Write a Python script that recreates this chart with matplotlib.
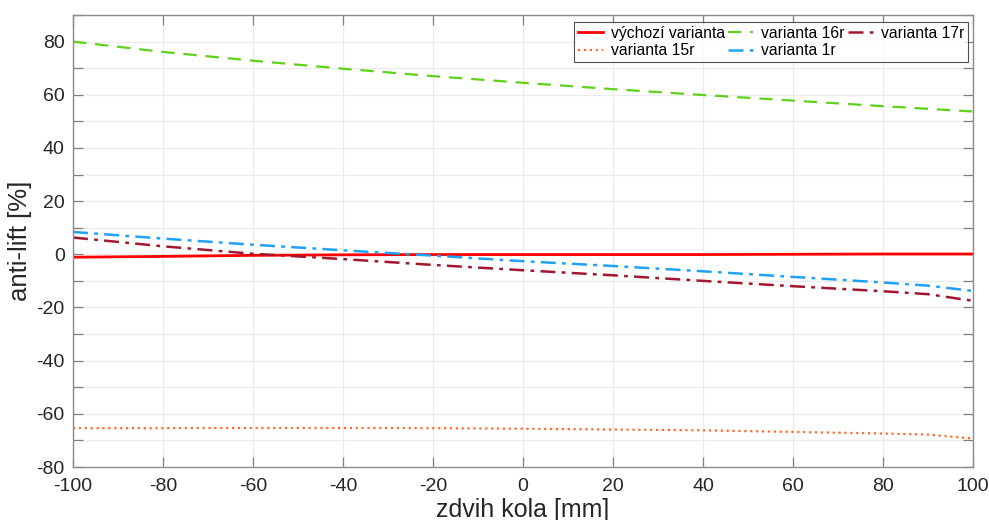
import numpy as np
import matplotlib.pyplot as plt
from matplotlib.ticker import FuncFormatter

plt.rcParams['font.family'] = ['Liberation Sans', 'DejaVu Sans']
plt.rcParams['axes.unicode_minus'] = False

# wheel travel [mm]
zdvih = [-100, -80, -60, -40, -20, 0, 20, 40, 60, 80, 90, 100]

# anti-lift [%] for each variant
vychozi = [-1.1, -0.8, -0.4, -0.2, -0.1, -0.1, -0.1, -0.1, 0.0, 0.1, 0.1, 0.1]
var_15r = [-65.4, -65.4, -65.3, -65.3, -65.4, -65.6, -65.9, -66.2, -66.8, -67.4, -67.8, -69.3]
var_16r = [80.0, 76.1, 72.8, 69.8, 67.0, 64.5, 62.1, 59.9, 57.8, 55.7, 54.7, 53.7]
var_1r = [8.4, 5.9, 3.6, 1.5, -0.5, -2.6, -4.4, -6.4, -8.5, -10.6, -11.8, -13.8]
var_17r = [6.3, 3.0, 0.2, -1.8, -4.0, -6.0, -7.9, -10.0, -12.0, -13.9, -15.0, -17.5]

fig = plt.figure(figsize=(9.89, 5.2), dpi=100)
ax = fig.add_axes([0.0738, 0.1019, 0.91, 0.8693])

ax.plot(zdvih, vychozi, color='#ff0000', lw=2.0, ls='-', label='výchozí varianta')
ax.plot(zdvih, var_15r, color='#ff6a2a', lw=1.6, ls=':', label='varianta 15r')
ax.plot(zdvih, var_16r, color='#5fd11a', lw=1.6, ls=(0, (6, 4)), label='varianta 16r')
ax.plot(zdvih, var_1r, color='#1ea2f5', lw=1.8, ls=(0, (6, 2.5, 1.5, 2.5)), label='varianta 1r')
ax.plot(zdvih, var_17r, color='#a0172f', lw=1.8, ls=(0, (6, 2.5, 1.5, 2.5)), label='varianta 17r')

ax.set_xlim(-100, 100)
ax.set_ylim(-80, 90)
ax.set_xticks(np.arange(-100, 101, 20))
ax.set_yticks(np.arange(-80, 91, 10))
ax.yaxis.set_major_formatter(FuncFormatter(lambda v, p: f'{int(v)}' if int(v) % 20 == 0 else ''))

ax.grid(True, color='#ebebeb', lw=0.9)
ax.set_axisbelow(True)
ax.tick_params(direction='in', length=7, width=0.9, colors='#808080', labelcolor='#262626',
               labelsize=14, top=True, right=True)
ax.tick_params(axis='x', pad=8)
ax.tick_params(axis='y', pad=6)
for s in ax.spines.values():
    s.set_color('#8c8c8c')
    s.set_linewidth(1.0)

ax.set_xlabel('zdvih kola [mm]', fontsize=18, color='#262626', labelpad=2)
ax.set_ylabel('anti-lift [%]', fontsize=18.5, color='#262626', labelpad=3)

leg = ax.legend(ncol=3, loc='upper right', bbox_to_anchor=(0.9945, 0.985), fontsize=11.3,
                frameon=True, fancybox=False, edgecolor='#262626', handlelength=1.6,
                handletextpad=0.5, columnspacing=0.2, labelspacing=0.15, borderpad=0.25,
                borderaxespad=0.0)
leg.get_frame().set_linewidth(0.8)

fig.savefig('out.png', dpi=100)
